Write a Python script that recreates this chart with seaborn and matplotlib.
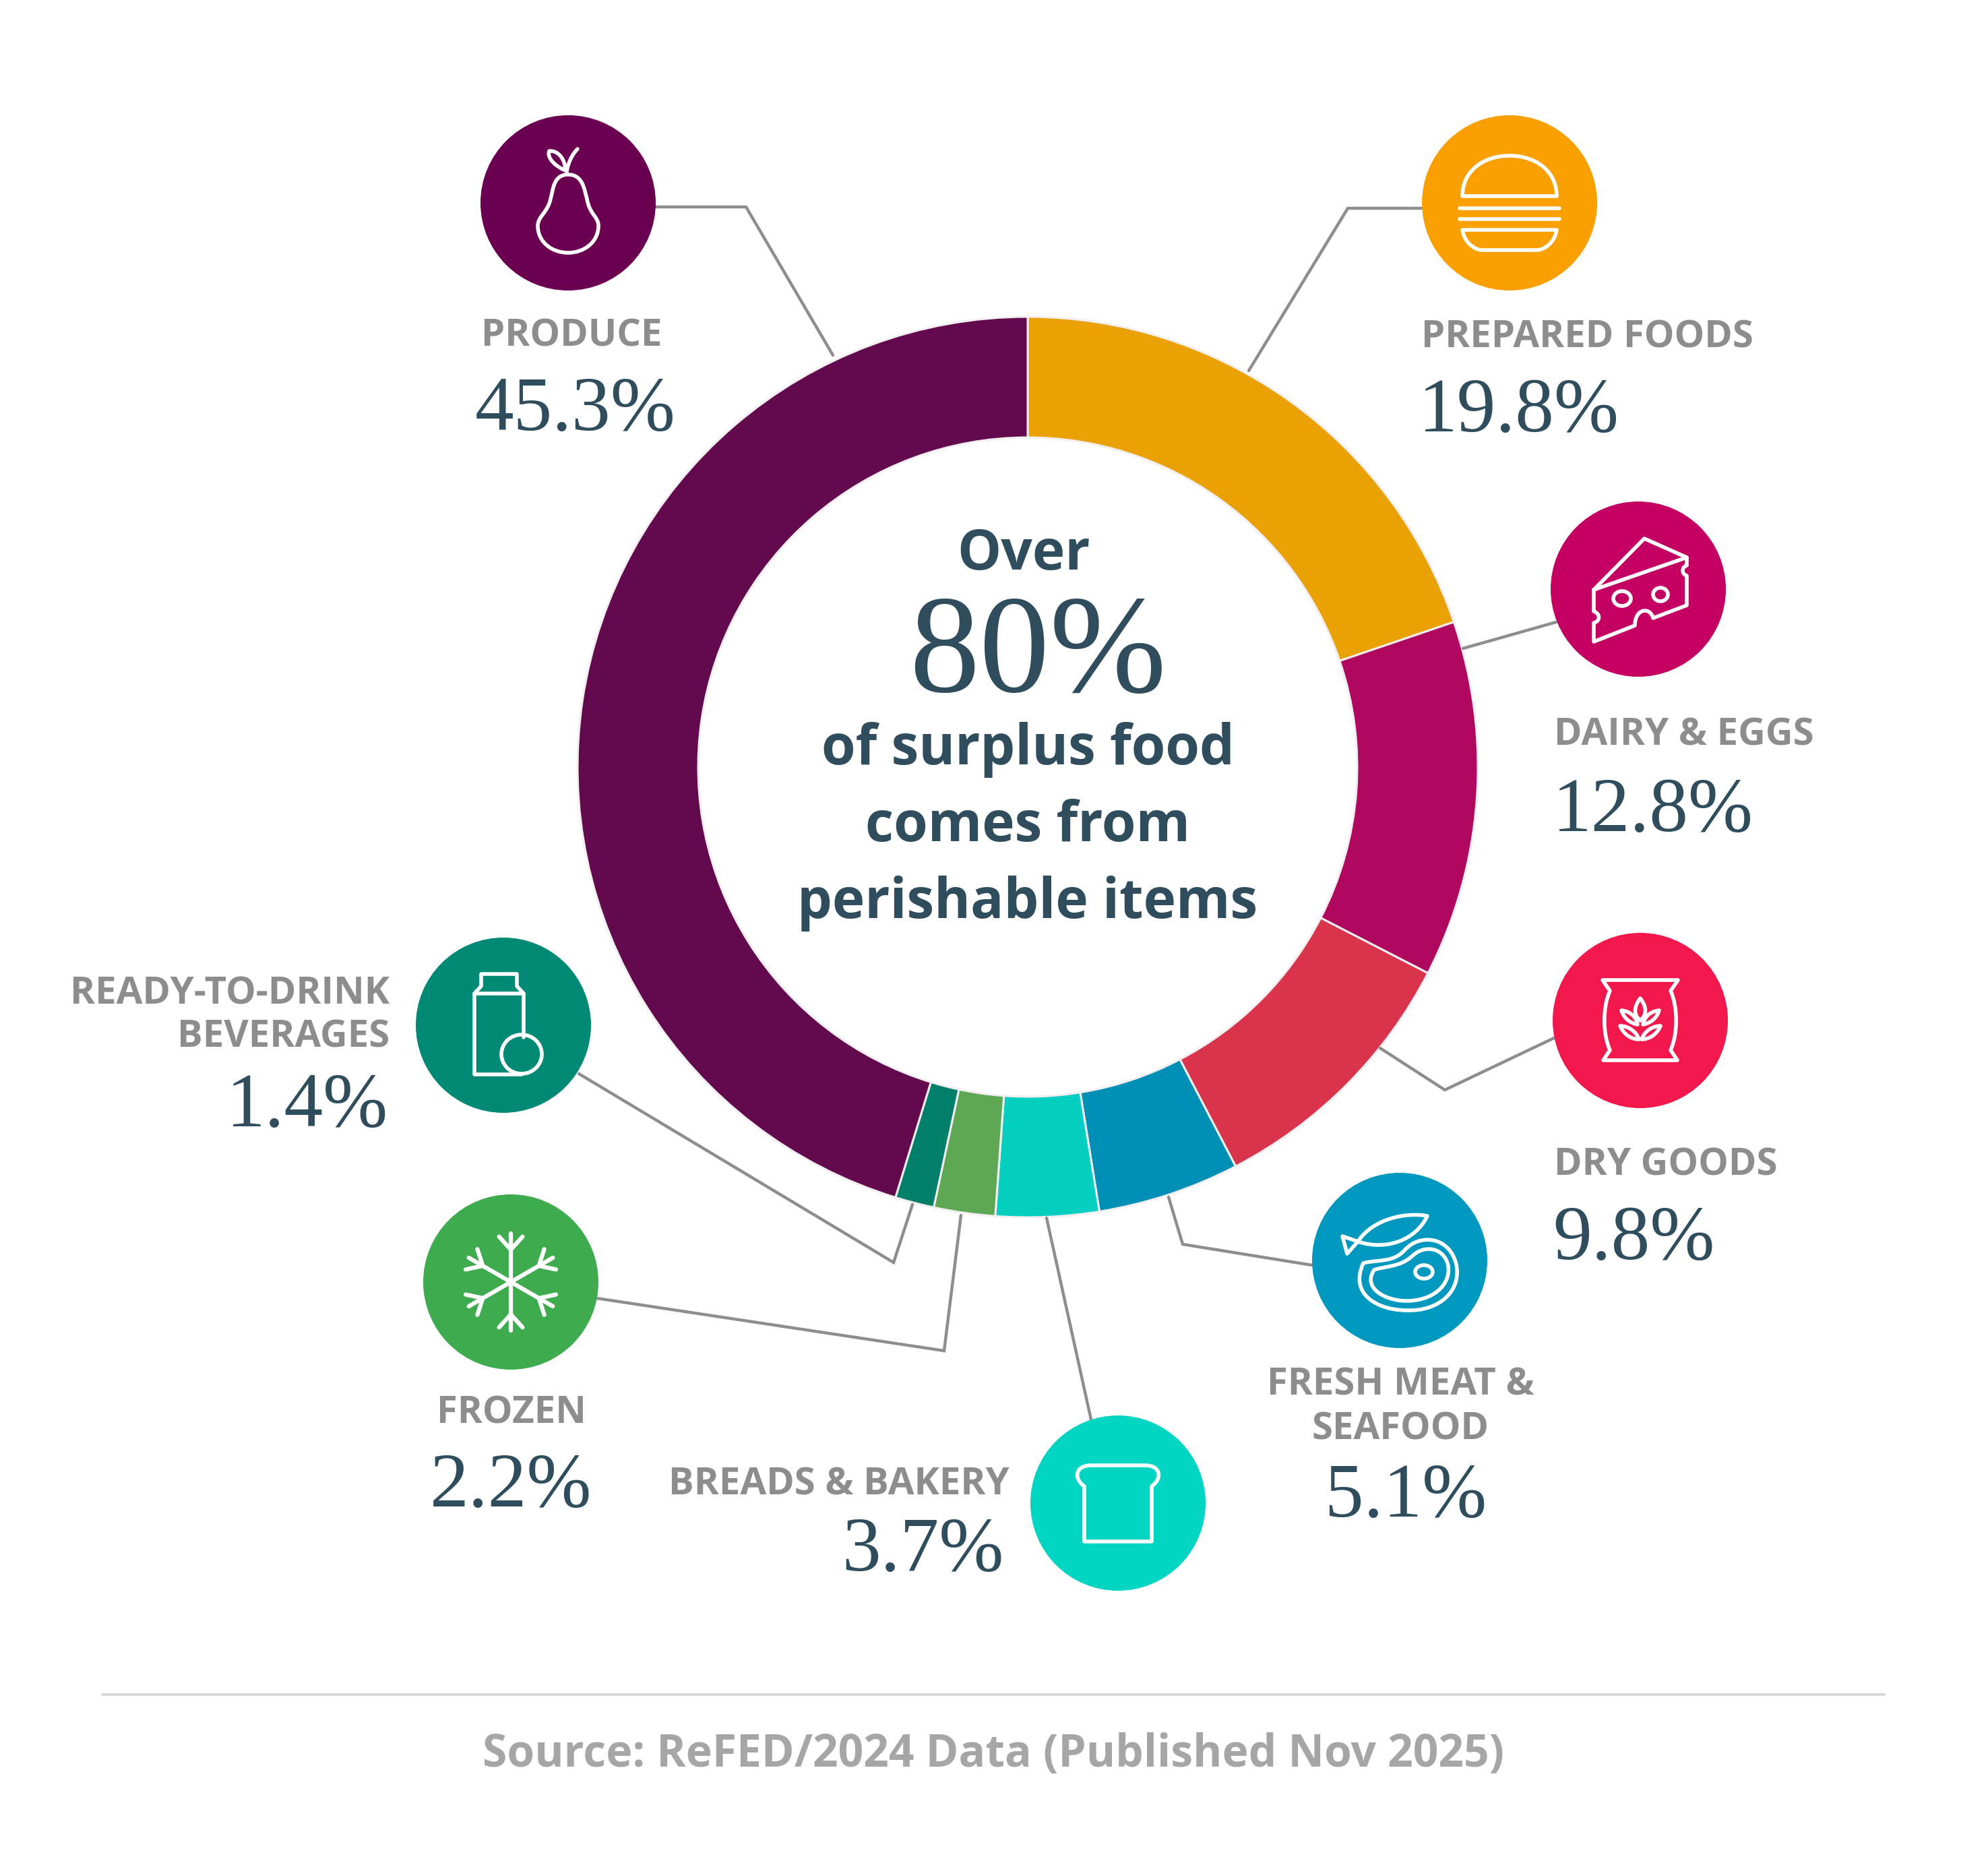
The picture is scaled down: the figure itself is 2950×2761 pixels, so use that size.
#!/usr/bin/env python3
import matplotlib
matplotlib.use("Agg")
import matplotlib.pyplot as plt
import numpy as np
import seaborn as sns
from matplotlib.patches import Circle, Ellipse, PathPatch
from matplotlib.path import Path

W, H = 2950, 2761

# data
categories = ["PREPARED FOODS", "DAIRY & EGGS", "DRY GOODS", "FRESH MEAT &\nSEAFOOD",
              "BREADS & BAKERY", "FROZEN", "READY-TO-DRINK\nBEVERAGES", "PRODUCE"]
shares = [19.8, 12.8, 9.8, 5.1, 3.7, 2.2, 1.4, 45.3]
ring_colors = ["#e9a104", "#b1085f", "#da344c", "#0090b6", "#04cfc1", "#5da755", "#00806a", "#630a4f"]
badge_colors = ["#fa9f00", "#c40062", "#f2184c", "#0098bf", "#00d5c3", "#3fab4f", "#008a75", "#6b0050"]
center_lines = ["of surplus food", "comes from", "perishable items"]
source_text = "Source: ReFED/2024 Data (Published Nov 2025)"

# layout, all in image pixels with y going down
RING_CX, RING_CY, RING_R, RING_W = 1525, 1138, 668, 179
BADGE_R = 130
badge_xy = [(2240, 301), (2431, 874), (2434, 1514), (2077, 1870),
            (1659, 2230), (758, 1902), (747, 1521), (843, 301)]
# label x, anchor, baseline of last label line, percent x, baseline of percent
label_pos = [(2109, "left", 516, 2105, 640), (2306, "left", 1106, 2304, 1233), (2306, "left", 1744, 2304, 1868),
             (2078, "center", 2135, 2086, 2250), (1498, "right", 2217, 1490, 2330), (759, "center", 2111, 758, 2235),
             (578, "right", 1554, 576, 1671), (848, "center", 513, 854, 638)]
leaders = [
    [(2110, 309), (2000, 309), (1853, 550)],
    [(2309, 923), (2171, 962)],
    [(2306, 1540), (2144, 1617), (2048, 1555)],
    [(1947, 1877), (1755, 1846), (1734, 1776)],
    [(1619, 2106), (1553, 1807)],
    [(885, 1926), (1401, 2004), (1426, 1803)],
    [(859, 1593), (1326, 1873), (1354, 1787)],
    [(973, 307), (1107, 307), (1236, 527)],
]

GRAY = "#8d8d8d"
SLATE = "#2f4d5c"
SANS = "Open Sans"
SERIF = "Liberation Serif"


def fy(y):
    return H - y


def parse_path(spec, cx, cy):
    """Small svg-like path reader: M L C Z, local coords with y down."""
    tokens = spec.split()
    verts, codes = [], []
    i = 0
    while i < len(tokens):
        cmd = tokens[i]
        i += 1
        if cmd == "Z":
            verts.append((0, 0))
            codes.append(Path.CLOSEPOLY)
            continue
        n = 3 if cmd == "C" else 1
        code = {"M": Path.MOVETO, "L": Path.LINETO, "C": Path.CURVE4}[cmd]
        for _ in range(n):
            x, y = float(tokens[i]), float(tokens[i + 1])
            i += 2
            verts.append((cx + x, fy(cy + y)))
            codes.append(code)
    return Path(verts, codes)


def draw_icon(ax, cx, cy, specs, rings=(), lw=4.0):
    for spec in specs:
        ax.add_patch(PathPatch(parse_path(spec, cx, cy), fc="none", ec="white", lw=lw,
                               capstyle="round", joinstyle="round", zorder=5))
    for x, y, rx, ry, ang in rings:
        ax.add_patch(Ellipse((cx + x, fy(cy + y)), 2 * rx, 2 * ry, angle=ang, fc="none",
                             ec="white", lw=lw, zorder=5))


def draw_snowflake(ax, cx, cy, lw=4.5):
    for k in range(6):
        a = np.radians(60 * k)
        d = np.array([np.sin(a), -np.cos(a)])
        ax.plot([cx, cx + 72 * d[0]], [fy(cy), fy(cy + 72 * d[1])], color="white", lw=lw,
                zorder=5, solid_capstyle="round")
        for side in (-1, 1):
            b = a + side * np.radians(42)
            e = np.array([np.sin(b), -np.cos(b)])
            s = 48 * d
            t = s + 26 * e
            ax.plot([cx + s[0], cx + t[0]], [fy(cy + s[1]), fy(cy + t[1])], color="white",
                    lw=lw, zorder=5, solid_capstyle="round")


ICONS = {
    "PREPARED FOODS": ([
        "M -70 -10 C -70 -48 -38 -70 0 -70 C 38 -70 70 -48 70 -10 Z",
        "M -74 8 L 74 8", "M -74 24 L 74 24",
        "M -70 40 L 70 40 C 68 56 54 70 40 70 L -40 70 C -54 70 -68 56 -70 40 Z",
    ], []),
    "DAIRY & EGGS": ([
        "M -66 1 L 9 -75 L 72 -47 L -66 1",
        "M 72 -47 L 72 -35 C 64 -33 64 -22 72 -20 L 72 24 L 22 43 C 18 26 -5 28 -5 54 L -66 78 "
        "L -66 50 C -56 48 -56 36 -66 33 L -66 1",
    ], [(-24, 14, 13, 11, 0), (33, 8, 11, 10, 0)]),
    "DRY GOODS": ([
        "M -56 -60 L 56 -60 L 45 -44 C 56 -20 56 20 45 44 L 55 59 L -55 59 L -45 44 "
        "C -56 20 -56 -20 -45 -44 Z",
        "M 0 -33 C -10 -20 -10 -8 0 0 C 10 -8 10 -20 0 -33 Z",
        "M -28 -15 C -24 -2 -14 4 -4 6 C -6 -6 -16 -14 -28 -15 Z",
        "M 28 -15 C 24 -2 14 4 4 6 C 6 -6 16 -14 28 -15 Z",
        "M -30 8 C -24 22 -12 28 -2 28 C -6 16 -18 8 -30 8 Z",
        "M 30 8 C 24 22 12 28 2 28 C 6 16 18 8 30 8 Z",
    ], []),
    "FRESH MEAT &\nSEAFOOD": ([
        "M -62 -28 C -40 -62 10 -72 41 -66 C 24 -30 -20 -14 -62 -28 Z",
        "M -62 -28 L -85 -36 L -78 -10 L -62 -28",
        "M -54 4 C -30 -2 -10 4 8 -16 C 30 -40 74 -36 84 6 C 92 44 60 76 10 74 C -30 74 -76 52 -54 4 Z",
        "M -38 14 C -20 8 0 10 18 -6 C 36 -24 66 -20 72 8 C 76 36 50 60 10 60 C -20 60 -56 42 -38 14 Z",
    ], [(36, 17, 13, 10, 0)]),
    "BREADS & BAKERY": ([
        "M -50 -25 C -66 -36 -64 -56 -40 -56 L 40 -56 C 64 -56 66 -36 50 -25 L 50 57 L -50 57 Z",
    ], []),
    "READY-TO-DRINK\nBEVERAGES": ([
        "M 30 18 L 30 -47 L -43 -47 L -43 73 L 27 73",
        "M -43 -47 L -33 -58 L -33 -76 L 20 -76 L 20 -58 L 30 -47",
    ], [(27, 43, 30, 29, 0)]),
    "PRODUCE": ([
        "M 0 -42 C 22 -42 24 -20 28 -6 C 32 18 45 20 45 34 C 45 58 24 74 0 74 "
        "C -24 74 -45 58 -45 34 C -45 20 -30 14 -26 -6 C -22 -20 -22 -42 0 -42 Z",
        "M -2 -46 C 0 -60 6 -72 14 -80",
        "M -4 -48 C -18 -54 -32 -66 -28 -77 C -14 -78 -4 -64 -4 -48 Z",
    ], []),
}

sns.set_theme(style="white", rc={"figure.facecolor": "white", "axes.facecolor": "white"})
plt.rcParams["font.family"] = [SANS, "DejaVu Sans"]

fig = plt.figure(figsize=(W / 100, H / 100), dpi=100)
ax = fig.add_axes([0, 0, 1, 1])

ax.pie(shares, colors=sns.color_palette(ring_colors), startangle=90, counterclock=False,
       center=(RING_CX, fy(RING_CY)), radius=RING_R,
       wedgeprops=dict(width=RING_W, edgecolor="#f3eef0", linewidth=2.2))
ax.set_xlim(0, W)
ax.set_ylim(0, H)
ax.set_aspect("equal")
ax.axis("off")

# leader lines sit under the badges
for pts in leaders:
    xs = [p[0] for p in pts]
    ys = [fy(p[1]) for p in pts]
    ax.plot(xs, ys, color=GRAY, lw=3.2, solid_joinstyle="miter", zorder=1)

palette = sns.color_palette(badge_colors)
for name, val, col, (bx, by), (lx, ha, ly, px, py) in zip(categories, shares, palette, badge_xy, label_pos):
    ax.add_patch(Circle((bx, fy(by)), BADGE_R, fc=col, ec="none", zorder=4))
    if name == "FROZEN":
        draw_snowflake(ax, bx, by)
    else:
        specs, rings = ICONS[name]
        draw_icon(ax, bx, by, specs, rings)
    lines = name.split("\n")
    for k, line in enumerate(lines):
        ax.text(lx, fy(ly - 65 * (len(lines) - 1 - k)), line, ha=ha, va="baseline", color=GRAY,
                fontsize=40.5, fontweight="bold", family=SANS)
    ax.text(px, fy(py), f"{val}%", ha=ha, va="baseline", color=SLATE, fontsize=83, family=SERIF)

# center block
ax.text(1519, fy(845), "Over", ha="center", va="baseline", color=SLATE, fontsize=59,
        fontweight="bold", family=SANS)
ax.text(1540, fy(1026), "80%", ha="center", va="baseline", color=SLATE, fontsize=150, family=SERIF)
for txt, y in zip(center_lines, [1134, 1248, 1362]):
    ax.text(1525, fy(y), txt, ha="center", va="baseline", color=SLATE, fontsize=59,
            fontweight="bold", family=SANS)

# footer
ax.plot([152, 2796], [fy(2514), fy(2514)], color="#d9d9d9", lw=3, zorder=1)
ax.text(1474, fy(2621), source_text, ha="center", va="baseline", color="#a6a6a6", fontsize=47.5,
        fontweight="bold", family=SANS)

fig.savefig("out.png", dpi=100, facecolor="white")
